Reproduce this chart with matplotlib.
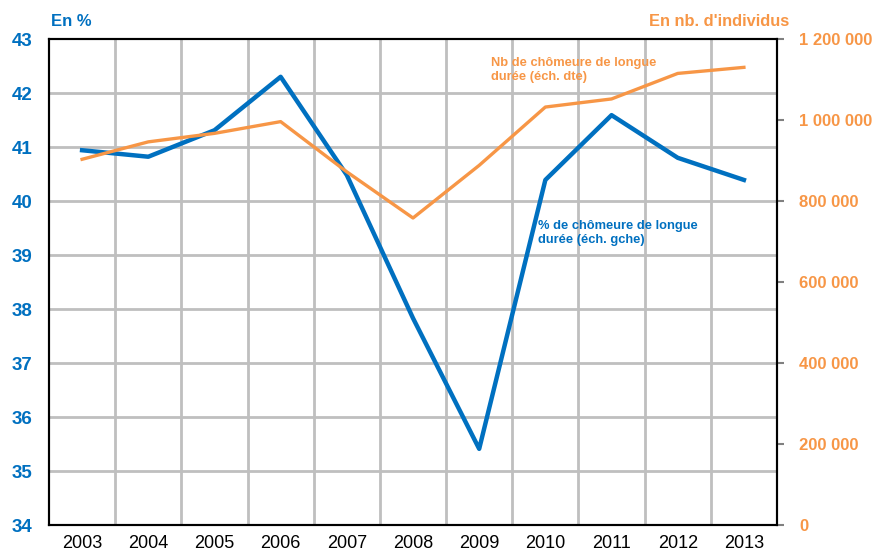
import matplotlib.pyplot as plt
from matplotlib.ticker import FuncFormatter

# Data
years = ["2003", "2004", "2005", "2006", "2007", "2008", "2009", "2010", "2011", "2012", "2013"]
pct_ld = [40.94, 40.82, 41.31, 42.30, 40.48, 37.83, 35.41, 40.39, 41.59, 40.80, 40.39]
nb_ld = [903000, 946000, 967000, 996000, 872000, 758000, 888000, 1032000, 1052000, 1115000, 1130000]

blue = "#0070C0"
orange = "#F79646"
grid = "#BFBFBF"

plt.rcParams['font.family'] = ['Liberation Sans', 'DejaVu Sans']

fig = plt.figure(figsize=(8.75, 5.51), dpi=100)
ax = fig.add_axes([49 / 875, 1 - 525 / 551, (777 - 49) / 875, (525 - 39) / 551])
ax2 = ax.twinx()

x = list(range(len(years)))
ax.plot(x, pct_ld, color=blue, lw=3.2, zorder=3)
ax2.plot(x, nb_ld, color=orange, lw=2.4, zorder=3)

ax.set_xlim(-0.5, len(years) - 0.5)
ax.set_ylim(34, 43)
ax2.set_ylim(0, 1200000)

# gridlines
for k in range(1, len(years)):
    ax.axvline(k - 0.5, color=grid, lw=2, zorder=1)
for v in range(35, 43):
    ax.axhline(v, color=grid, lw=2, zorder=1)

ax.set_xticks(x)
ax.set_xticklabels(years, fontsize=13)
ax.tick_params(axis='x', length=0, pad=7)
ax.set_yticks(range(34, 44))
ax.tick_params(axis='y', length=0, pad=12, labelcolor=blue, labelsize=13.5)
for lab in ax.get_yticklabels():
    lab.set_fontweight('bold')

ax2.set_yticks(range(0, 1200001, 200000))
ax2.yaxis.set_major_formatter(FuncFormatter(lambda v, p: f"{int(v):,}".replace(",", " ")))
ax2.tick_params(axis='y', length=5, width=1.5, color="#808080", pad=11,
                labelcolor=orange, labelsize=12)
for lab in ax2.get_yticklabels():
    lab.set_fontweight('bold')

for a in (ax, ax2):
    for s in a.spines.values():
        s.set_color("black")
        s.set_linewidth(1.5)

fig.text(51 / 875, 1 - 22 / 551, "En %", color=blue, fontsize=12, fontweight='bold',
         va='center', ha='left')
fig.text(789 / 875, 1 - 22 / 551, "En nb. d'individus", color=orange, fontsize=11.75,
         fontweight='bold', va='center', ha='right')

fig.text(491 / 875, 1 - 57 / 551, "Nb de chômeure de longue\ndurée (éch. dte)",
         color=orange, fontsize=9.3, fontweight='bold', va='top', ha='left', linespacing=1.25)
fig.text(538 / 875, 1 - 220 / 551, "% de chômeure de longue\ndurée (éch. gche)",
         color=blue, fontsize=9.3, fontweight='bold', va='top', ha='left', linespacing=1.25)

fig.savefig("out.png", dpi=100)
